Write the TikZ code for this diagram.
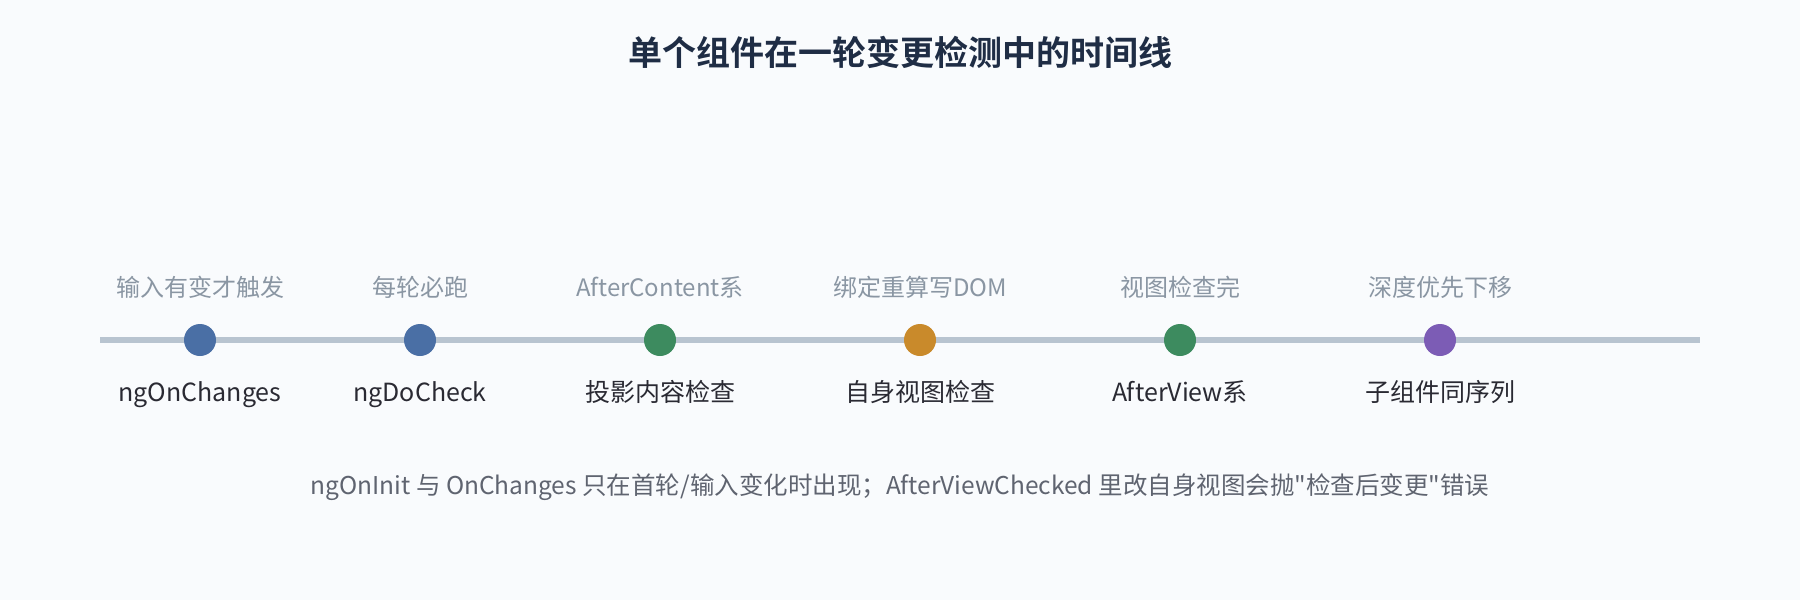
\documentclass[tikz,border=0pt]{standalone}
\usepackage{fontspec}
\newfontfamily\cjkfont{Noto Sans CJK SC}[BoldFont={Noto Sans CJK SC Bold}]
\definecolor{bgcol}{HTML}{F9FBFD}
\definecolor{railcol}{HTML}{B8C4D0}
\definecolor{titlecol}{HTML}{1F2D45}
\definecolor{hintcol}{HTML}{8A96A3}
\definecolor{namecol}{HTML}{2A2A33}
\definecolor{notecol}{HTML}{5F6470}
\definecolor{bluecol}{HTML}{4A6FA5}
\definecolor{greencol}{HTML}{3D8B5F}
\definecolor{orangecol}{HTML}{C98A2B}
\definecolor{purplecol}{HTML}{7C5CB5}
\tikzset{
  dot/.style={circle, minimum size=32pt, inner sep=0pt},
  hint/.style={text=hintcol, text height=0.8em, text depth=0.2em, font=\cjkfont\fontsize{24}{28}\selectfont},
  hookname/.style={text=namecol, text height=0.8em, text depth=0.2em, font=\cjkfont\fontsize{25}{30}\selectfont},
}
\begin{document}
\begin{tikzpicture}[x=1pt,y=-1pt]
\fill[bgcol] (0,0) rectangle (1800,600);
\node[text=titlecol, font=\cjkfont\fontsize{34}{40}\selectfont\bfseries] (title) at (900,52) {单个组件在一轮变更检测中的时间线};

\coordinate (railstart) at (100,340); \coordinate (railend) at (1700,340);
\draw[railcol, line width=6pt] (railstart) -- (railend);

\node[dot, fill=bluecol] (d1) at (200,340) {}; \node[hint] (h1) at (200,293) {输入有变才触发}; \node[hookname] (n1) at (200,398) {ngOnChanges};
\node[dot, fill=bluecol] (d2) at (420,340) {}; \node[hint] (h2) at (420,293) {每轮必跑}; \node[hookname] (n2) at (420,398) {ngDoCheck};
\node[dot, fill=greencol] (d3) at (660,340) {}; \node[hint] (h3) at (660,293) {AfterContent系}; \node[hookname] (n3) at (660,398) {投影内容检查};
\node[dot, fill=orangecol] (d4) at (920,340) {}; \node[hint] (h4) at (920,293) {绑定重算写DOM}; \node[hookname] (n4) at (920,398) {自身视图检查};
\node[dot, fill=greencol] (d5) at (1180,340) {}; \node[hint] (h5) at (1180,293) {视图检查完}; \node[hookname] (n5) at (1180,398) {AfterView系};
\node[dot, fill=purplecol] (d6) at (1440,340) {}; \node[hint] (h6) at (1440,293) {深度优先下移}; \node[hookname] (n6) at (1440,398) {子组件同序列};

\node[text=notecol, font=\cjkfont\fontsize{24.5}{29}\selectfont] (note) at (900,487) {ngOnInit 与 OnChanges 只在首轮/输入变化时出现；AfterViewChecked 里改自身视图会抛"检查后变更"错误};
\end{tikzpicture}
\end{document}
